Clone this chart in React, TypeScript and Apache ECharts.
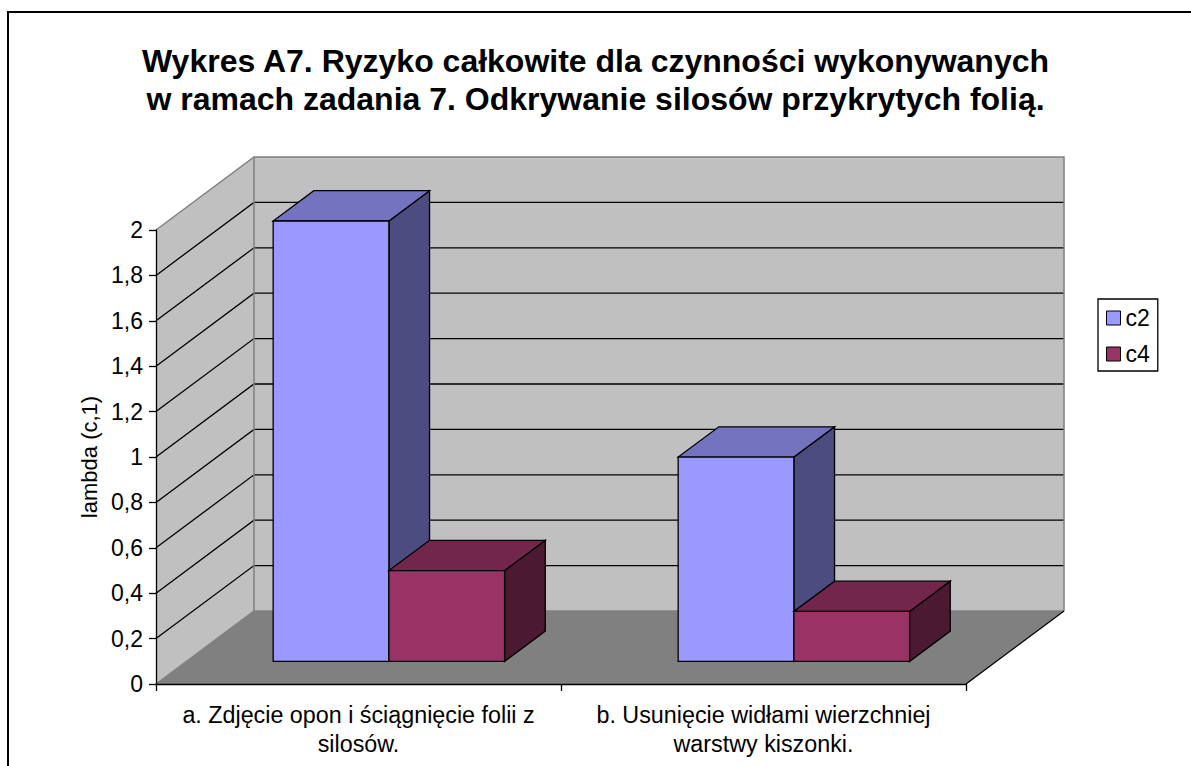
import React, { useEffect, useRef } from "react";
import * as echarts from "echarts";

const CATEGORIES = [
  "a. Zdjęcie opon i ściągnięcie folii z\nsilosów.",
  "b. Usunięcie widłami wierzchniej\nwarstwy kiszonki.",
];
const SERIES_NAMES = ["c2", "c4"];
const C2_VALUES = [1.94, 0.9];
const C4_VALUES = [0.4, 0.22];
const Y_MIN = 0;
const Y_MAX = 2;
const Y_STEP = 0.2;
const GRID_VALUES = [0.2, 0.4, 0.6, 0.8, 1, 1.2, 1.4, 1.6, 1.8];

const TITLE =
  "Wykres A7. Ryzyko całkowite dla czynności wykonywanych\nw ramach zadania 7. Odkrywanie silosów przykrytych folią.";
const Y_NAME = "lambda (c,1)";

const FONT = "'Liberation Sans', Arial, Helvetica, sans-serif";

// 3D projection (pixels)
const DX = 98;
const DY = -73;
const Z0 = 0.31;
const Z1 = 0.725;
const GAP = 1.5;

const COLORS = [
  { front: "#9999FF", top: "#7373BF", side: "#4C4C80" },
  { front: "#993366", top: "#73264C", side: "#4C1933" },
];

function frameRender(params: any, api: any) {
  const o = api.coord([0, Y_MIN]);
  const bw = api.size([1, 0])[0];
  const left = o[0] - bw / 2;
  const right = left + CATEGORIES.length * bw;
  const yb = o[1];
  const yt = api.coord([0, Y_MAX])[1];
  const children: any[] = [];
  children.push({
    type: "polygon",
    shape: { points: [[left, yt], [left + DX, yt + DY], [left + DX, yb + DY], [left, yb]] },
    style: { fill: "#C0C0C0", stroke: null },
  });
  children.push({
    type: "polygon",
    shape: {
      points: [[left + DX, yt + DY], [right + DX, yt + DY], [right + DX, yb + DY], [left + DX, yb + DY]],
    },
    style: { fill: "#C0C0C0", stroke: null },
  });
  children.push({
    type: "polygon",
    shape: { points: [[left, yb], [right, yb], [right + DX, yb + DY], [left + DX, yb + DY]] },
    style: { fill: "#808080", stroke: null },
  });
  GRID_VALUES.forEach((v) => {
    const y = api.coord([0, v])[1];
    children.push({
      type: "polyline",
      shape: { points: [[left, y], [left + DX, y + DY], [right + DX, y + DY]] },
      style: { fill: null, stroke: "#000", lineWidth: 1.3 },
    });
  });
  const grey = { fill: null, stroke: "#808080", lineWidth: 1.5 };
  children.push({
    type: "polyline",
    shape: { points: [[left, yt], [left + DX, yt + DY], [right + DX, yt + DY], [right + DX, yb + DY]] },
    style: grey,
  });
  children.push({
    type: "polyline",
    shape: { points: [[left, yb], [left + DX, yb + DY], [right + DX, yb + DY]] },
    style: grey,
  });
  children.push({
    type: "line",
    shape: { x1: left + DX, y1: yt + DY, x2: left + DX, y2: yb + DY },
    style: grey,
  });
  children.push({
    type: "line",
    shape: { x1: right, y1: yb, x2: right + DX, y2: yb + DY },
    style: { stroke: "#000", lineWidth: 1.3 },
  });
  return { type: "group", children };
}

function makeBarRender(seriesPos: number, col: { front: string; top: string; side: string }) {
  return (params: any, api: any) => {
    const cat = api.value(0);
    const v = api.value(1);
    const base = api.coord([cat, Y_MIN]);
    const topPt = api.coord([cat, v]);
    const bw = api.size([1, 0])[0];
    const barW = bw / (2 + GAP);
    const catLeft = base[0] - bw / 2;
    const x0 = catLeft + (barW * GAP) / 2 + seriesPos * barW + Z0 * DX;
    const x1 = x0 + barW;
    const yB = base[1] + Z0 * DY;
    const yT = topPt[1] + Z0 * DY;
    const dx = (Z1 - Z0) * DX;
    const dy = (Z1 - Z0) * DY;
    const stroke = { stroke: "#000", lineWidth: 1.3, lineJoin: "miter" };
    return {
      type: "group",
      children: [
        {
          type: "polygon",
          shape: { points: [[x1, yT], [x1 + dx, yT + dy], [x1 + dx, yB + dy], [x1, yB]] },
          style: { fill: col.side, ...stroke },
        },
        {
          type: "polygon",
          shape: { points: [[x0, yT], [x1, yT], [x1 + dx, yT + dy], [x0 + dx, yT + dy]] },
          style: { fill: col.top, ...stroke },
        },
        {
          type: "rect",
          shape: { x: x0, y: yT, width: barW, height: yB - yT },
          style: { fill: col.front, ...stroke },
        },
      ],
    };
  };
}

export default function App() {
  const ref = useRef<HTMLDivElement>(null);
  useEffect(() => {
    document.body.style.margin = "0";
    if (!ref.current) return;
    const chart = echarts.init(ref.current, null, { renderer: "svg" });
    const valuesList = [C2_VALUES, C4_VALUES];
    const option: any = {
      animation: false,
      backgroundColor: "#fff",
      textStyle: { fontFamily: FONT },
      title: {
        text: TITLE,
        left: "center",
        top: 37,
        textStyle: {
          fontFamily: FONT,
          fontSize: 32,
          fontWeight: "bold",
          lineHeight: 38,
          color: "#000",
        },
      },
      legend: {
        orient: "vertical",
        left: 1098,
        top: 299,
        borderColor: "#000",
        borderWidth: 1.3,
        padding: [7, 8, 5, 8],
        itemWidth: 14,
        itemHeight: 14,
        itemGap: 12,
        textStyle: { fontFamily: FONT, fontSize: 23, lineHeight: 24, color: "#000" },
        data: SERIES_NAMES.map((n, i) => ({
          name: n,
          icon: "rect",
          itemStyle: { color: COLORS[i].front, borderColor: "#000", borderWidth: 1 },
        })),
      },
      grid: { left: 156, right: 225, top: 230, bottom: 82, containLabel: false },
      xAxis: {
        type: "category",
        data: CATEGORIES,
        boundaryGap: true,
        z: 5,
        axisLine: { show: true, lineStyle: { color: "#000", width: 1.3 } },
        axisTick: { show: true, length: 7, lineStyle: { color: "#000", width: 1.3 } },
        axisLabel: {
          interval: 0,
          margin: 16,
          fontFamily: FONT,
          fontSize: 23.3,
          lineHeight: 29,
          color: "#000",
        },
        splitLine: { show: false },
      },
      yAxis: {
        type: "value",
        min: Y_MIN,
        max: Y_MAX,
        interval: Y_STEP,
        z: 5,
        name: Y_NAME,
        nameLocation: "middle",
        nameGap: 30,
        nameTextStyle: { fontFamily: FONT, fontSize: 22, color: "#000" },
        axisLine: { show: true, lineStyle: { color: "#000", width: 1.3 } },
        axisTick: { show: true, inside: false, length: 7, lineStyle: { color: "#000", width: 1.3 } },
        axisLabel: {
          margin: 13,
          fontFamily: FONT,
          fontSize: 23,
          color: "#000",
          formatter: (v: number) => String(Math.round(v * 10) / 10).replace(".", ","),
        },
        splitLine: { show: false },
      },
      graphic: [
        {
          type: "rect",
          shape: { x: 8, y: 12, width: 1220, height: 800 },
          style: { fill: null, stroke: "#000", lineWidth: 2 },
          silent: true,
          z: 100,
        },
      ],
      series: [
        {
          type: "custom",
          name: "frame",
          z: 1,
          clip: false,
          silent: true,
          renderItem: frameRender,
          data: [[0, 0]],
        },
        ...SERIES_NAMES.map((name, i) => ({
          type: "custom",
          name,
          z: 3,
          clip: false,
          itemStyle: { color: COLORS[i].front, borderColor: "#000", borderWidth: 1 },
          renderItem: makeBarRender(i, COLORS[i]),
          data: valuesList[i].map((v, k) => [k, v]),
        })),
      ],
    };
    chart.setOption(option);
    return () => chart.dispose();
  }, []);
  return <div ref={ref} style={{ width: 1191, height: 766 }} />;
}
